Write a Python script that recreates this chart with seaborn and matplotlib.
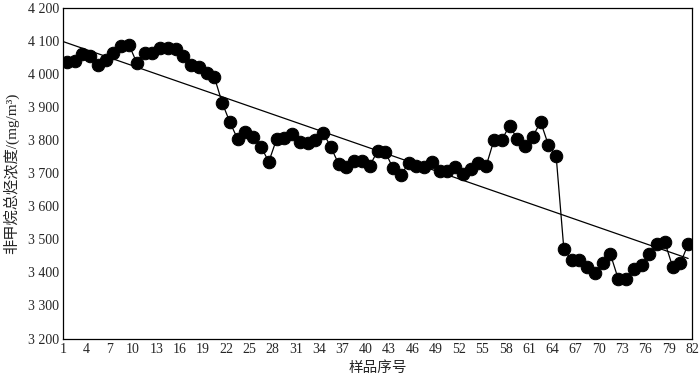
import numpy as np
import pandas as pd
import matplotlib
matplotlib.use("Agg")
import matplotlib.pyplot as plt
import seaborn as sns

# sample number and NMHC concentration (mg/m3)
samples = list(range(1, 82))
conc = [4034, 4039, 4059, 4053, 4026, 4041, 4062, 4084, 4087, 4033,
        4064, 4062, 4077, 4077, 4075, 4053, 4026, 4021, 4003, 3989,
        3912, 3853, 3802, 3823, 3808, 3779, 3734, 3802, 3805, 3818,
        3793, 3792, 3800, 3822, 3778, 3727, 3717, 3736, 3736, 3722,
        3766, 3764, 3714, 3694, 3729, 3721, 3719, 3732, 3707, 3707,
        3719, 3697, 3711, 3729, 3722, 3800, 3800, 3843, 3803, 3782,
        3810, 3855, 3785, 3752, 3469, 3437, 3437, 3415, 3397, 3427,
        3454, 3380, 3380, 3409, 3422, 3454, 3485, 3491, 3417, 3427,
        3485]
x_ticklabels = list(range(1, 83, 3))
y_ticks = list(range(3200, 4201, 100))

df = pd.DataFrame({"sample": samples, "conc": conc})

sns.set_style("white")
plt.rcParams['font.family'] = ['Liberation Serif', 'Noto Sans CJK SC']

fig = plt.figure(figsize=(7, 3.76), dpi=100)
ax = fig.add_axes([0.09, 0.0997, 0.8986, 0.8803])

# linear trend
k, b = np.polyfit(df["sample"], df["conc"], 1)
xs = np.array([0.5, df["sample"].max()])
ax.plot(xs, k * xs + b, color="black", lw=0.9, zorder=2)

sns.lineplot(data=df, x="sample", y="conc", ax=ax, color="black", lw=0.9,
             marker="o", markersize=9, markeredgecolor="black", zorder=3)

ax.set_xlim(0.5, 81.5)
ax.set_ylim(3200, 4200)
ax.set_xticks(np.arange(0.5, 82, 3))
ax.set_xticklabels([str(v) for v in x_ticklabels])
ax.set_yticks(y_ticks)
ax.set_yticklabels([f"{v // 1000} {v % 1000:03d}" for v in y_ticks])
ax.tick_params(direction="in", length=5, width=0.8, labelsize=10, pad=3,
               top=False, right=False)
for s in ax.spines.values():
    s.set_color("black")
    s.set_linewidth(0.9)

ax.set_xlabel("样品序号", fontsize=10.5, family=['Noto Sans CJK SC'], labelpad=4)
ax.set_ylabel("非甲烷总烃浓度/(mg/m³)", fontsize=11,
              family=['Liberation Serif', 'Noto Sans CJK SC'], labelpad=6)

fig.savefig("out.png", dpi=100)
